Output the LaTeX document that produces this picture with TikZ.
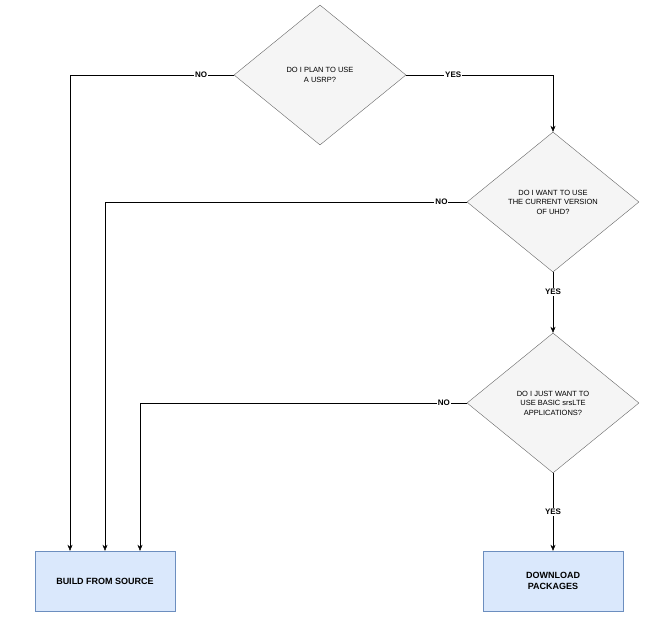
\documentclass[tikz,border=0pt]{standalone}
\usepackage{fontspec}
\setmainfont{Liberation Sans}
\usetikzlibrary{shapes.geometric,arrows.meta}
\definecolor{dfill}{HTML}{F5F5F5}
\definecolor{ddraw}{HTML}{666666}
\definecolor{bfill}{HTML}{DAE8FC}
\definecolor{bdraw}{HTML}{6C8EBF}
\begin{document}
\begin{tikzpicture}[x=1pt,y=-1pt,
  dec/.style={diamond,draw=ddraw,fill=dfill,inner sep=0pt,minimum width=172pt,minimum height=140pt,align=center,font=\fontsize{7.5}{9.5}\selectfont},
  box/.style={rectangle,draw=bdraw,fill=bfill,minimum width=140pt,minimum height=60pt,align=center,font=\fontsize{9}{11.5}\selectfont\bfseries},
  arr/.style={draw,-{Stealth[length=6pt,width=5pt]}},
  lab/.style={fill=white,inner sep=1pt,font=\fontsize{8}{9}\selectfont\bfseries}]
\useasboundingbox (0,0) rectangle (664,639);
\node[dec] (d1) at (320,75) {DO I PLAN TO USE\\A USRP?};
\node[dec] (d2) at (553,202) {DO I WANT TO USE\\THE CURRENT VERSION\\OF UHD?};
\node[dec] (d3) at (553,403) {DO I JUST WANT TO\\USE BASIC srsLTE\\APPLICATIONS?};
\node[box] (b1) at (105,581) {BUILD FROM SOURCE};
\node[box] (b2) at (553,581) {DOWNLOAD\\PACKAGES};
\coordinate (c1) at (70,75);
\coordinate (c2) at (105,202);
\coordinate (c3) at (140,403);
\coordinate (c4) at (553,75);
\draw[arr] (d1.west) -- node[lab,pos=0.2]{NO} (c1) -- (c1 |- b1.north);
\draw[arr] (d2.west) -- node[lab,pos=0.07]{NO} (c2) -- (b1.north);
\draw[arr] (d3.west) -- node[lab,pos=0.07]{NO} (c3) -- (c3 |- b1.north);
\draw[arr] (d1.east) -- node[lab,pos=0.32]{YES} (c4) -- (d2.north);
\draw[arr] (d2.south) -- node[lab,pos=0.33]{YES} (d3.north);
\draw[arr] (d3.south) -- node[lab,pos=0.5]{YES} (b2.north);
\end{tikzpicture}
\end{document}
